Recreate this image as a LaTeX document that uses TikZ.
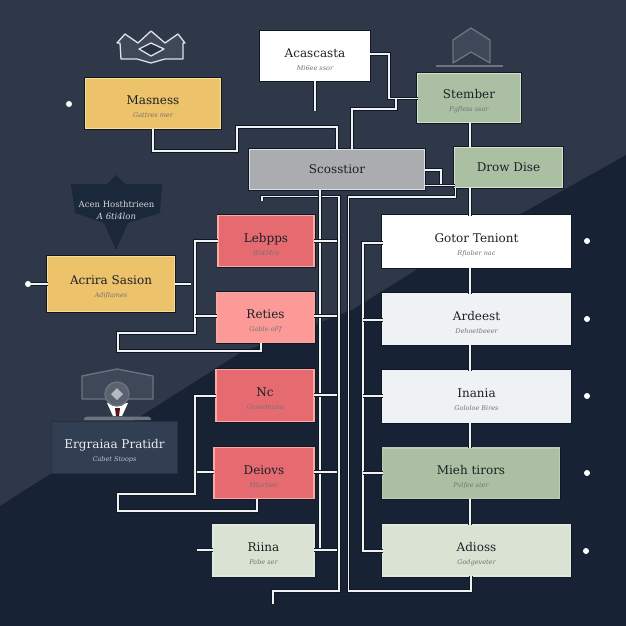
\documentclass[tikz,border=0pt]{standalone}
\usepackage{fontspec}
\usepackage{xcolor}
\usepackage{tikz}
\usetikzlibrary{positioning, calc}
\setmainfont{DejaVu Serif}
\definecolor{slateTop}{RGB}{46, 56, 73}
\definecolor{navyLow}{RGB}{23, 35, 53}
\definecolor{haloDark}{RGB}{16, 24, 38}
\definecolor{linkWhite}{RGB}{240, 242, 242}
\definecolor{inkDark}{RGB}{28, 32, 38}
\definecolor{iconGrey}{RGB}{108, 116, 128}
\definecolor{iconFill}{RGB}{62, 72, 88}
\definecolor{mustard}{RGB}{236, 194, 107}
\definecolor{mustardEdge}{RGB}{248, 222, 150}
\definecolor{sage}{RGB}{171, 192, 162}
\definecolor{sageEdge}{RGB}{214, 224, 206}
\definecolor{paleSage}{RGB}{218, 227, 211}
\definecolor{steel}{RGB}{170, 172, 175}
\definecolor{steelEdge}{RGB}{222, 225, 228}
\definecolor{coral}{RGB}{229, 107, 113}
\definecolor{coralEdge}{RGB}{250, 170, 163}
\definecolor{salmon}{RGB}{252, 154, 152}
\definecolor{frost}{RGB}{239, 242, 245}
\definecolor{panelBlue}{RGB}{50, 62, 82}
\definecolor{panelEdge}{RGB}{38, 49, 67}
\definecolor{bannerDark}{RGB}{27, 40, 58}
\newcommand{\sublabel}[1]{{\fontsize{6.5}{8}\selectfont\itshape\color{black!55}#1}}
\newcommand{\cardlabel}[2]{\rule{0pt}{16pt}#1\\[-1pt]\sublabel{#2}}
\tikzset{
  plaincard/.style={
    rectangle,
    line width=1.8pt,
    inner sep=0pt, outer sep=0pt,
    align=center,
    text=inkDark,
    font=\fontsize{12}{14}\selectfont
  },
  cardbox/.style={
    plaincard,
    preaction={draw=haloDark, line width=3pt}
  },
  whitecard/.style={cardbox, draw=white, fill=white},
  frostcard/.style={cardbox, draw=frost, fill=frost},
  yellowcard/.style={cardbox, draw=mustardEdge, fill=mustard},
  sagecard/.style={cardbox, draw=sageEdge, fill=sage},
  palecard/.style={cardbox, draw=paleSage!80!white, fill=paleSage},
  greycard/.style={cardbox, draw=steelEdge, fill=steel},
  coralcard/.style={cardbox, draw=coralEdge, fill=coral},
  salmoncard/.style={cardbox, draw=coralEdge!70!salmon, fill=salmon},
  link/.style={
    preaction={draw=haloDark, line width=3.2pt},
    draw=linkWhite, line width=1.9pt
  },
  dotmark/.style={
    circle, fill=white, minimum size=6pt, inner sep=0pt
  },
  iconline/.style={draw=iconGrey, fill=iconFill, line width=1.3pt, line join=round}
}

\begin{document}
\begin{tikzpicture}[x=1pt, y=-1pt]
\useasboundingbox (0,0) rectangle (626,626);

% --- Background ---
\fill[slateTop] (0,0) rectangle (626,626);
\fill[navyLow] (0,506) -- (240,353) -- (352,310) -- (416,270) -- (519,215) -- (626,155) -- (626,626) -- (0,626) -- cycle;

% --- Top row ---
\node[whitecard, minimum width=109pt, minimum height=49pt, anchor=north west] (acascasta) at (260.5,31.5)
  {\cardlabel{Acascasta}{Mi6ee ssor}};
\node[yellowcard, minimum width=135pt, minimum height=50pt, anchor=north west] (masness) at (85.5,78.5)
  {\cardlabel{Masness}{Gattres mer}};
\node[sagecard, minimum width=103pt, minimum height=49pt, anchor=north west] (stember) at (417.5,73.5)
  {\cardlabel{Stember}{Pgfless ssor}};

% --- Middle row ---
\node[greycard, minimum width=175pt, minimum height=40pt, anchor=north west] (scosstior) at (249.5,149.5)
  {Scosstior};
\node[sagecard, minimum width=108pt, minimum height=40pt, anchor=north west] (drowdise) at (454.5,147.5)
  {Drow Dise};

% --- Right column ---
\node[whitecard, minimum width=188pt, minimum height=52pt, anchor=north west] (gotor) at (382.5,215.5)
  {\cardlabel{Gotor Teniont}{Rfiober nac}};
\node[frostcard, minimum width=188pt, minimum height=51pt, below=26pt of gotor] (ardeest)
  {\cardlabel{Ardeest}{Dehoetbeeer}};
\node[frostcard, minimum width=188pt, minimum height=52pt, below=26pt of ardeest] (inania)
  {\cardlabel{Inania}{Gololoe Bires}};
\node[cardbox, draw=sage!80!white, fill=sage, minimum width=177pt, minimum height=50.5pt, below=25.5pt of inania.south west, anchor=north west] (mieh)
  {\cardlabel{Mieh tirors}{Pvlfee ster}};
\node[palecard, minimum width=188pt, minimum height=51pt, below=26.5pt of mieh.south west, anchor=north west] (adioss)
  {\cardlabel{Adioss}{Godgeveter}};

% --- Centre column ---
\node[coralcard, minimum width=96pt, minimum height=51pt, anchor=north east] (lebpps) at (314,215.5)
  {\cardlabel{Lebpps}{Wi4Mro}};
\node[salmoncard, minimum width=97pt, minimum height=50pt, below=26pt of lebpps.south east, anchor=north east] (reties)
  {\cardlabel{Reties}{Gable oFf}};
\node[coralcard, minimum width=98pt, minimum height=52pt, below=27pt of reties.south east, anchor=north east] (nc)
  {\cardlabel{Nc}{Gcoodnuns}};
\node[coralcard, minimum width=100pt, minimum height=51pt, below=26pt of nc.south east, anchor=north east] (deiovs)
  {\cardlabel{Deiovs}{Mlurtsec}};
\node[palecard, minimum width=101pt, minimum height=51pt, below=26.5pt of deiovs.south east, anchor=north east] (riina)
  {\cardlabel{Riina}{Pabe ser}};

% --- Left side ---
\fill[bannerDark] (71,184) -- (107,184) -- (116,175) -- (125,184) -- (162,184) -- (160,213)
  -- (128,223) -- (116,250) -- (104,223) -- (75,213) -- cycle;
\node[font=\fontsize{8.5}{12}\selectfont, text=white!80!slateTop, align=center] (bannerlabel) at (116.5,210)
  {Acen Hosthtrieen\\\textit{A 6ti4lon}};
\node[yellowcard, minimum width=127pt, minimum height=55pt, anchor=north west] (acrira) at (47.5,256.5)
  {\cardlabel{Acrira Sasion}{Adiflames}};
\node[plaincard, draw=panelEdge, fill=panelBlue, text=white!90!slateTop, minimum width=126pt, minimum height=52pt, anchor=north west] (ergraiaa) at (51.5,421.5)
  {\rule{0pt}{16pt}Ergraiaa Pratidr\\[-1pt]{\fontsize{6.5}{8}\selectfont\itshape\color{white!70!slateTop}Cabet Stoops}};

% --- Crown icon ---
\draw[iconline, draw=white!85!slateTop] (117,43) -- (125,34) -- (138,43) -- (151,31) -- (165,43) -- (178,34) -- (185,43)
  -- (183,43) -- (183,59) -- (165,59) -- (151,63) -- (137,59) -- (121,59) -- (120,43) -- cycle;
\draw[iconline, draw=white!85!slateTop, fill=slateTop!70!navyLow] (139,49) -- (151,43) -- (164,49) -- (151,56) -- cycle;

% --- House icon ---
\draw[iconline] (453,40) -- (471,28) -- (490,40) -- (490,63) -- (471,52) -- (453,63) -- cycle;
\draw[draw=iconGrey, line width=2.2pt] (436,66) -- (503,66);

% --- Badge icon ---
\draw[iconline] (82,376) -- (117,369) -- (153,376) -- (153,399) -- (82,399) -- cycle;
\fill[white] (107,403) -- (113,416) -- (122,416) -- (128,403) -- cycle;
\fill[haloDark!70!red] (115,408) -- (120,408) -- (119,416) -- (116,416) -- cycle;
\draw[iconline, fill=iconGrey!70!slateTop] (117,394) circle [radius=12];
\fill[iconGrey!50!white] (117,388) -- (123,394) -- (117,400) -- (111,394) -- cycle;
\fill[iconGrey, rounded corners=2pt] (83,420) -- (85,416.5) -- (150,416.5) -- (152,420) -- cycle;

% --- Named free ends ---
\coordinate (acasend) at (315,111);
\coordinate (scossstub) at (262,201);
\coordinate (acriraend) at (191,284);
\coordinate (deiovsend) at (197,472);
\coordinate (riinaend) at (197,550);
\coordinate (footend) at (273,604);
\coordinate (lebppsend) at (337,241);
\coordinate (retiesend) at (337,316);
\coordinate (ncend) at (337,395);
\coordinate (deiovsout) at (337,472);
\coordinate (riinaout) at (337,550);

% --- Dots ---
\node[dotmark] (dotmasness) at (69,104) {};
\node[dotmark] (dotacrira) at (28,284) {};
\node[dotmark] (dotgotor) at (587,241) {};
\node[dotmark] (dotardeest) at (587,319) {};
\node[dotmark] (dotinania) at (587,396) {};
\node[dotmark] (dotmieh) at (587,473) {};
\node[dotmark] (dotadioss) at (586,551) {};

% --- Top arrows ---
\draw[link] (acascasta.south -| acasend) -- (acasend);
\draw[link] (masness.south) -- (153,151) -- (237,151) -- (237,127) -- (337,127) -- (337,149);
\draw[link] (acascasta.east |- 0,54) -- (389,54) -- (389,98.5) -- (stember.west |- 0,98.5);
\draw[link] (396,99) -- (396,109) -- (352,109) -- (352,149);
\draw[link] (stember.south -| 470,0) -- (470,147);

% --- Centre arrows ---
\draw[link] (scosstior.east |- 0,170) -- (441,170) -- (441,185.5);
\draw[link] (scosstior.east |- 0,185.5) -- (drowdise.west |- 0,185.5);
\draw[link] (455.5,188) -- (455.5,197) -- (348.5,197) -- (348.5,591) -- (471,591) -- (adioss.south -| 471,0);
\draw[link] (scossstub) -- (262,196.5) -- (339,196.5) -- (339,591) -- (273,591) -- (footend);
\draw[link] (320,190) -- (320,550);
\draw[link] (lebpps.east |- lebppsend) -- (lebppsend);
\draw[link] (reties.east |- retiesend) -- (retiesend);
\draw[link] (nc.east |- ncend) -- (ncend);
\draw[link] (deiovs.east |- deiovsout) -- (deiovsout);
\draw[link] (riina.east |- riinaout) -- (riinaout);

% --- Left arrows ---
\draw[link] (acrira.west |- dotacrira) -- (dotacrira);
\draw[link] (acrira.east |- acriraend) -- (acriraend);
\draw[link] (lebpps.west |- 0,241) -- (195,241) -- (195,333) -- (118,333) -- (118,351) -- (261,351) -- (reties.south -| 261,0);
\draw[link] (reties.west |- 0,316) -- (195,316);
\draw[link] (nc.west |- 0,396) -- (195,396) -- (195,494) -- (118,494) -- (118,511) -- (257,511) -- (deiovs.south -| 257,0);
\draw[link] (deiovs.west |- deiovsend) -- (deiovsend);
\draw[link] (riina.west |- riinaend) -- (riinaend);

% --- Right arrows ---
\draw[link] (gotor.west |- 0,243) -- (363,243) -- (363,551) -- (adioss.west |- 0,551);
\draw[link] (ardeest.west |- 0,320) -- (363,320);
\draw[link] (inania.west |- 0,396) -- (363,396);
\draw[link] (mieh.west |- 0,473) -- (363,473);
\draw[link] (drowdise.south -| 470,0) -- (gotor.north -| 470,0);
\draw[link] (gotor.south -| 470,0) -- (ardeest.north -| 470,0);
\draw[link] (ardeest.south -| 470,0) -- (inania.north -| 470,0);
\draw[link] (inania.south -| 470,0) -- (mieh.north -| 470,0);
\draw[link] (mieh.south -| 470,0) -- (adioss.north -| 470,0);

\end{tikzpicture}
\end{document}
